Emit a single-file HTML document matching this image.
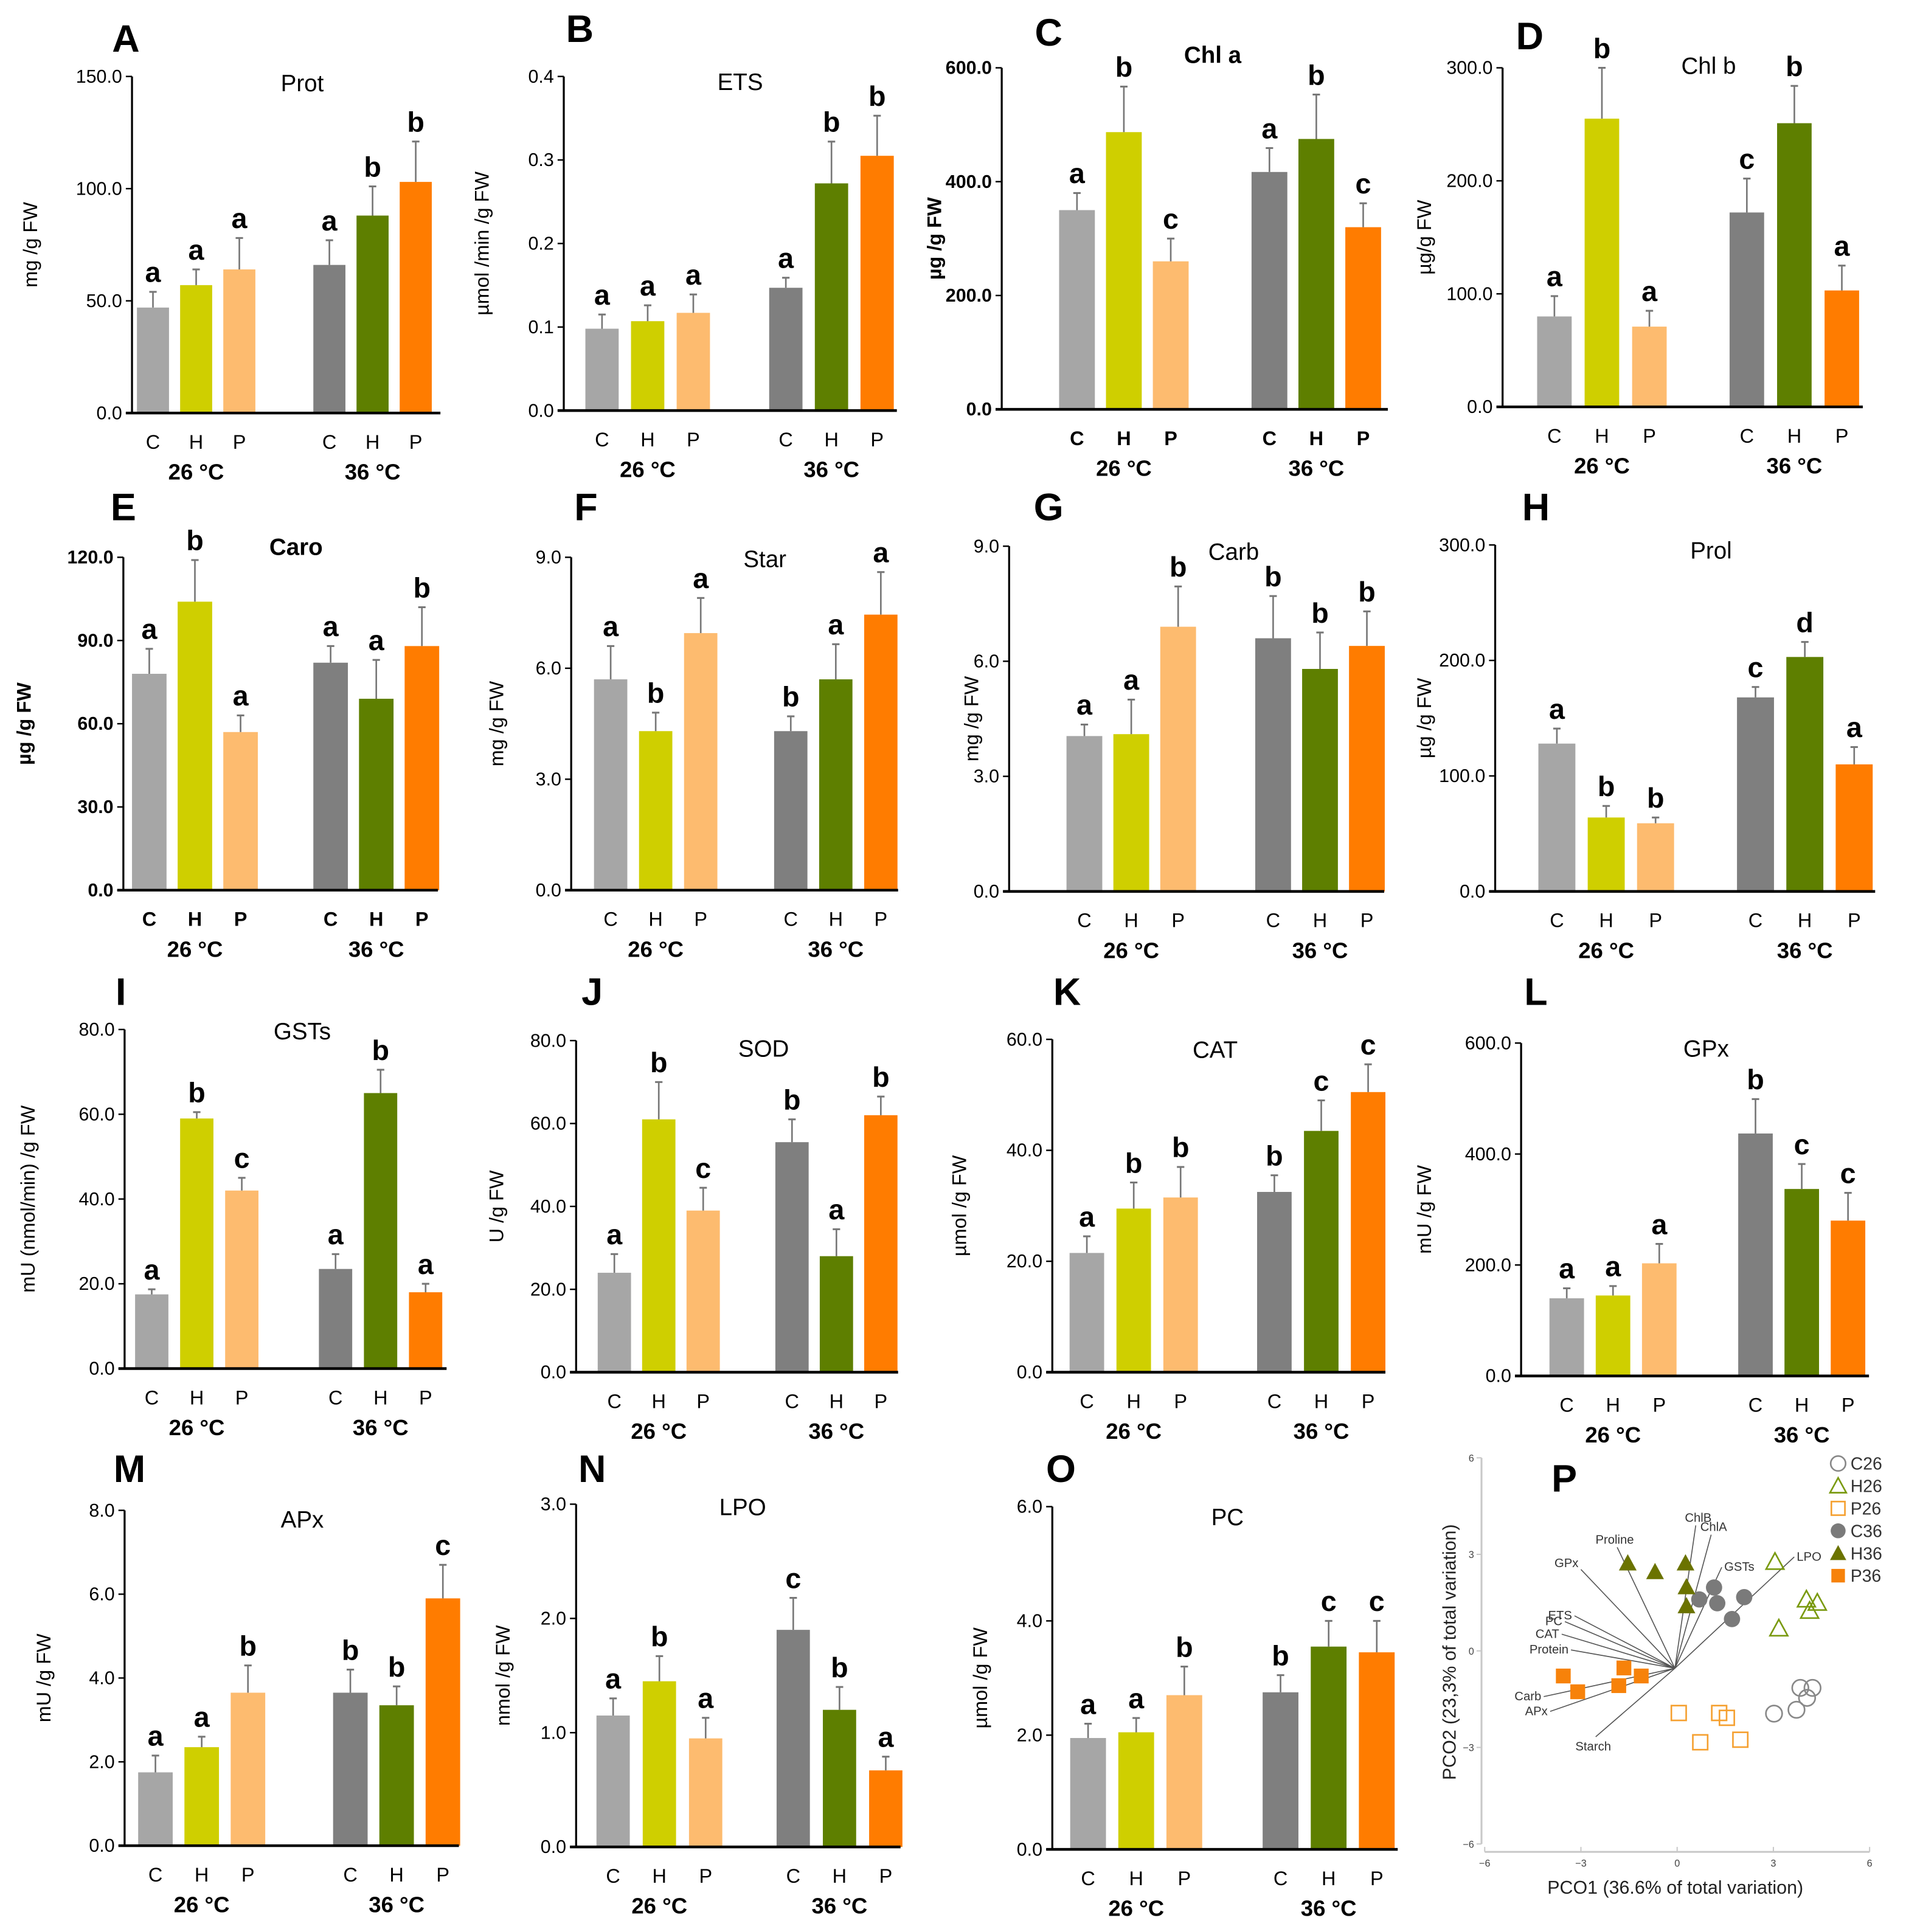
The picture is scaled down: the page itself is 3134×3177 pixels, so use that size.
<!DOCTYPE html>
<html><head><meta charset="utf-8">
<style>
html,body{margin:0;padding:0;background:#fff;}
svg{display:block;}
text{font-family:"Liberation Sans",sans-serif;}
</style></head>
<body>
<svg id="fig" xmlns="http://www.w3.org/2000/svg" width="3134" height="3177" viewBox="0 0 1545 1567" preserveAspectRatio="none"></svg>
<script>
// ---- data arrays (values, errors, significance letters, ticks) ----
const groups = ["C","H","P","C","H","P"];
const tempLabels = ["26 °C","36 °C"];
const protValues = [47,57,64,66,88,103];
const protErrors = [7,7,14,11,13,18];
const protLetters = ["a","a","a","a","b","b"];
const protTicks = ["0.0","50.0","100.0","150.0"];
const etsValues = [0.098,0.107,0.117,0.147,0.272,0.305];
const etsErrors = [0.017,0.019,0.022,0.012,0.05,0.048];
const etsLetters = ["a","a","a","a","b","b"];
const etsTicks = ["0.0","0.1","0.2","0.3","0.4"];
const chlaValues = [350,487,260,417,475,320];
const chlaErrors = [30,80,40,42,78,42];
const chlaLetters = ["a","b","c","a","b","c"];
const chlaTicks = ["0.0","200.0","400.0","600.0"];
const chlbValues = [80,255,71,172,251,103];
const chlbErrors = [18,45,14,30,33,22];
const chlbLetters = ["a","b","a","c","b","a"];
const chlbTicks = ["0.0","100.0","200.0","300.0"];
const caroValues = [78,104,57,82,69,88];
const caroErrors = [9,15,6,6,14,14];
const caroLetters = ["a","b","a","a","a","b"];
const caroTicks = ["0.0","30.0","60.0","90.0","120.0"];
const starValues = [5.7,4.3,6.95,4.3,5.7,7.45];
const starErrors = [0.9,0.5,0.95,0.4,0.95,1.15];
const starLetters = ["a","b","a","b","a","a"];
const starTicks = ["0.0","3.0","6.0","9.0"];
const carbValues = [4.05,4.1,6.9,6.6,5.8,6.4];
const carbErrors = [0.3,0.9,1.05,1.1,0.95,0.9];
const carbLetters = ["a","a","b","b","b","b"];
const carbTicks = ["0.0","3.0","6.0","9.0"];
const prolValues = [128,64,59,168,203,110];
const prolErrors = [13,10,5,9,13,15];
const prolLetters = ["a","b","b","c","d","a"];
const prolTicks = ["0.0","100.0","200.0","300.0"];
const gstValues = [17.5,59,42,23.5,65,18];
const gstErrors = [1.2,1.5,3,3.5,5.5,2];
const gstLetters = ["a","b","c","a","b","a"];
const gstTicks = ["0.0","20.0","40.0","60.0","80.0"];
const sodValues = [24,61,39,55.5,28,62];
const sodErrors = [4.5,9,5.5,5.5,6.5,4.5];
const sodLetters = ["a","b","c","b","a","b"];
const sodTicks = ["0.0","20.0","40.0","60.0","80.0"];
const catValues = [21.5,29.5,31.5,32.5,43.5,50.5];
const catErrors = [3,4.7,5.5,3,5.5,5];
const catLetters = ["a","b","b","b","c","c"];
const catTicks = ["0.0","20.0","40.0","60.0"];
const gpxValues = [140,145,203,437,337,280];
const gpxErrors = [18,17,35,62,45,50];
const gpxLetters = ["a","a","a","b","c","c"];
const gpxTicks = ["0.0","200.0","400.0","600.0"];
const apxValues = [1.75,2.35,3.65,3.65,3.35,5.9];
const apxErrors = [0.4,0.25,0.65,0.55,0.45,0.8];
const apxLetters = ["a","a","b","b","b","c"];
const apxTicks = ["0.0","2.0","4.0","6.0","8.0"];
const lpoValues = [1.15,1.45,0.95,1.9,1.2,0.67];
const lpoErrors = [0.15,0.22,0.18,0.28,0.2,0.12];
const lpoLetters = ["a","b","a","c","b","a"];
const lpoTicks = ["0.0","1.0","2.0","3.0"];
const pcValues = [1.95,2.05,2.7,2.75,3.55,3.45];
const pcErrors = [0.25,0.25,0.5,0.3,0.45,0.55];
const pcLetters = ["a","a","b","b","c","c"];
const pcTicks = ["0.0","2.0","4.0","6.0"];

// PCO data
const pcoGroups = ["C26","H26","P26","C36","H36","P36"];
const pcoX = [
  [3.02,3.72,3.84,4.22,4.05],
  [3.05,3.17,4.03,4.37,4.13],
  [0.05,1.31,1.55,0.72,1.97],
  [0.69,1.15,1.25,2.09,1.71],
  [-1.54,-0.69,0.26,0.29,0.29],
  [-3.55,-3.1,-1.66,-1.12,-1.82]];
const pcoY = [
  [-1.95,-1.83,-1.15,-1.15,-1.46],
  [2.77,0.70,1.6,1.5,1.25],
  [-1.93,-1.93,-2.08,-2.84,-2.76],
  [1.6,1.97,1.48,1.67,0.99],
  [2.73,2.46,2.73,1.99,1.4],
  [-0.78,-1.27,-0.53,-0.78,-1.08]];
const vecNames = ["Proline","GPx","ETS","PC","CAT","Protein","Carb","APx","Starch","ChlB","ChlA","GSTs","LPO"];
const vecX = [-1.87,-3.0,-3.2,-3.5,-3.6,-3.31,-4.16,-3.96,-2.54,0.58,1.06,1.39,3.65];
const vecY = [3.22,2.53,1.09,0.91,0.52,0.03,-1.42,-1.88,-2.67,3.9,3.61,2.6,2.92];
const vecOrigin = [-0.07,-0.54];
const pcoTicks = [-6,-3,0,3,6];

// ---- drawing ----
const NS="http://www.w3.org/2000/svg";
const svg=document.getElementById('fig');
const colors=["#a6a6a6","#cfcf00","#fdbb6f","#7f7f7f","#5e7f00","#ff7c00"];
function mk(tag,attrs,parent){const e=document.createElementNS(NS,tag);for(const k in attrs)e.setAttribute(k,attrs[k]);(parent||svg).appendChild(e);return e;}
function txt(s,attrs,parent){const e=mk('text',attrs,parent);e.textContent=s;return e;}

const panels=[
 {id:"A",title:"Prot",v:protValues,e:protErrors,l:protLetters,t:protTicks,max:150,ax:107,end:357,yb:335,yt:62,x0:124,dx:35,g2:267,bw:26,lx:102,ly:42,tx:245,ty:74,yl:"mg /g FW",ylx:30,bold:false},
 {id:"B",title:"ETS",v:etsValues,e:etsErrors,l:etsLetters,t:etsTicks,max:0.4,ax:457,end:727,yb:333,yt:62,x0:488,dx:37,g2:637,bw:27,lx:470,ly:34,tx:600,ty:73,yl:"µmol /min /g FW",ylx:396,bold:false},
 {id:"C",title:"Chl a",v:chlaValues,e:chlaErrors,l:chlaLetters,t:chlaTicks,max:600,ax:812,end:1125,yb:332,yt:55,x0:873,dx:38,g2:1029,bw:29,lx:850,ly:37,tx:983,ty:51,yl:"µg /g FW",ylx:763,bold:true},
 {id:"D",title:"Chl b",v:chlbValues,e:chlbErrors,l:chlbLetters,t:chlbTicks,max:300,ax:1218,end:1510,yb:330,yt:55,x0:1260,dx:38.5,g2:1416,bw:28,lx:1240,ly:40,tx:1385,ty:60,yl:"µg/g FW",ylx:1160,bold:false},
 {id:"E",title:"Caro",v:caroValues,e:caroErrors,l:caroLetters,t:caroTicks,max:120,ax:100,end:355,yb:722,yt:452,x0:121,dx:37,g2:268,bw:28,lx:100,ly:422,tx:240,ty:450,yl:"µg /g FW",ylx:25,bold:true},
 {id:"F",title:"Star",v:starValues,e:starErrors,l:starLetters,t:starTicks,max:9,ax:463,end:728,yb:722,yt:452,x0:495,dx:36.5,g2:641,bw:27,lx:475,ly:422,tx:620,ty:460,yl:"mg /g FW",ylx:408,bold:false},
 {id:"G",title:"Carb",v:carbValues,e:carbErrors,l:carbLetters,t:carbTicks,max:9,ax:818,end:1122,yb:723,yt:443,x0:879,dx:38,g2:1032,bw:29,lx:850,ly:422,tx:1000,ty:454,yl:"mg /g FW",ylx:793,bold:false},
 {id:"H",title:"Prol",v:prolValues,e:prolErrors,l:prolLetters,t:prolTicks,max:300,ax:1212,end:1520,yb:723,yt:442,x0:1262,dx:40,g2:1423,bw:30,lx:1245,ly:422,tx:1387,ty:453,yl:"µg /g FW",ylx:1160,bold:false},
 {id:"I",title:"GSTs",v:gstValues,e:gstErrors,l:gstLetters,t:gstTicks,max:80,ax:101,end:362,yb:1110,yt:835,x0:123,dx:36.5,g2:272,bw:27,lx:98,ly:815,tx:245,ty:843,yl:"mU (nmol/min) /g FW",ylx:28,bold:false},
 {id:"J",title:"SOD",v:sodValues,e:sodErrors,l:sodLetters,t:sodTicks,max:80,ax:467,end:728,yb:1113,yt:844,x0:498,dx:36,g2:642,bw:27,lx:480,ly:815,tx:619,ty:857,yl:"U /g FW",ylx:408,bold:false},
 {id:"K",title:"CAT",v:catValues,e:catErrors,l:catLetters,t:catTicks,max:60,ax:853,end:1123,yb:1113,yt:843,x0:881,dx:38,g2:1033,bw:28,lx:865,ly:815,tx:985,ty:858,yl:"µmol /g FW",ylx:783,bold:false},
 {id:"L",title:"GPx",v:gpxValues,e:gpxErrors,l:gpxLetters,t:gpxTicks,max:600,ax:1233,end:1515,yb:1116,yt:846,x0:1270,dx:37.5,g2:1423,bw:28,lx:1245,ly:815,tx:1383,ty:857,yl:"mU /g FW",ylx:1160,bold:false},
 {id:"M",title:"APx",v:apxValues,e:apxErrors,l:apxLetters,t:apxTicks,max:8,ax:101,end:372,yb:1497,yt:1225,x0:126,dx:37.5,g2:284,bw:28,lx:105,ly:1202,tx:245,ty:1239,yl:"mU /g FW",ylx:41,bold:false},
 {id:"N",title:"LPO",v:lpoValues,e:lpoErrors,l:lpoLetters,t:lpoTicks,max:3,ax:467,end:730,yb:1498,yt:1220,x0:497,dx:37.5,g2:643,bw:27,lx:480,ly:1202,tx:602,ty:1229,yl:"nmol /g FW",ylx:413,bold:false},
 {id:"O",title:"PC",v:pcValues,e:pcErrors,l:pcLetters,t:pcTicks,max:6,ax:853,end:1133,yb:1500,yt:1222,x0:882,dx:39,g2:1038,bw:29,lx:860,ly:1202,tx:995,ty:1237,yl:"µmol /g FW",ylx:800,bold:false}
];

panels.forEach(p=>{
  const g=mk('g',{});
  
  
  const ys=v=>p.yb-(v/p.max)*(p.yb-p.yt);
  const xs=i=>i<3?p.x0+i*p.dx:p.g2+(i-3)*p.dx;
  const fw=p.bold?'bold':'normal';
  const lt=txt(p.id,{x:p.lx,y:p.ly,'font-size':31,'font-weight':'bold','text-anchor':'middle'},g);
  
  
  const tt=txt(p.title,{x:p.tx,y:p.ty,'font-size':19,'font-weight':p.bold?'bold':'normal','text-anchor':'middle'},g);
  
  
  const yl=txt(p.yl,{x:0,y:0,'font-size':16,'font-weight':p.bold?'bold':'normal','text-anchor':'middle',transform:`translate(${p.ylx},${(p.yt+p.yb)/2}) rotate(-90)`},g);
  
  
  p.t.forEach((s,k)=>{
    const v=p.max*k/(p.t.length-1);const y=ys(v);
    mk('line',{x1:p.ax-5,x2:p.ax,y1:y,y2:y,stroke:'#000','stroke-width':1.2},g);
    const tl=txt(s,{x:p.ax-8,y:y+5,'font-size':15,'font-weight':fw,'text-anchor':'end'},g);
    
    
  });
  p.v.forEach((v,i)=>{
    const cx=xs(i),top=ys(v),et=ys(v+p.e[i]);
    const r=mk('rect',{x:cx-p.bw/2,y:top,width:p.bw,height:p.yb-top,fill:colors[i]},g);
    
    
    mk('line',{x1:cx,x2:cx,y1:top,y2:et,stroke:'#777','stroke-width':1.3},g);
    mk('line',{x1:cx-3,x2:cx+3,y1:et,y2:et,stroke:'#777','stroke-width':1.5},g);
    const le=txt(p.l[i],{x:cx,y:et-8,'font-size':23,'font-weight':'bold','text-anchor':'middle'},g);
    
    
    const xl=txt(groups[i],{x:cx,y:p.yb+29,'font-size':16,'font-weight':fw,'text-anchor':'middle'},g);
    
    
  });
  [1,4].forEach((i,k)=>{
    const gl=txt(tempLabels[k],{x:xs(i),y:p.yb+54,'font-size':18,'font-weight':'bold','text-anchor':'middle'},g);
    
    
  });
  const ya=mk('line',{x1:p.ax,x2:p.ax,y1:p.yt,y2:p.yb,stroke:'#000','stroke-width':1.6},g);
  
  
  const xa=mk('line',{x1:p.ax-5,x2:p.end,y1:p.yb,y2:p.yb,stroke:'#000','stroke-width':2.2},g);
  
  
});

// ---- PCO panel ----
(function(){
  const g=mk('g',{});
  
  
  const X=v=>1359.5+v*26.0, Y=v=>1339+v*-26.1;
  const grey='#c8c8c8';
  mk('line',{x1:X(-6.1),x2:X(-6.1),y1:Y(6),y2:Y(-6),stroke:grey,'stroke-width':1.5},g);
  mk('line',{x1:X(-6),x2:X(6),y1:1502,y2:1502,stroke:grey,'stroke-width':1.5},g);
  pcoTicks.forEach(t=>{
    const s=(t<0?'−':'')+Math.abs(t);
    mk('line',{x1:X(-6.1)-4,x2:X(-6.1),y1:Y(t),y2:Y(t),stroke:grey,'stroke-width':1},g);
    const a=txt(s,{x:X(-6.1)-6,y:Y(t)+3,'font-size':8,'text-anchor':'end',fill:'#444'},g);
    
    
    mk('line',{x1:X(t),x2:X(t),y1:1502,y2:1498,stroke:grey,'stroke-width':1},g);
    const b=txt(s,{x:X(t),y:1514,'font-size':8,'text-anchor':'middle',fill:'#444'},g);
    
    
  });
  const xt=txt('PCO1 (36.6% of total variation)',{x:1358,y:1536,'font-size':15,'text-anchor':'middle',fill:'#222'},g);
  
  
  const yt=txt('PCO2 (23,3% of total variation)',{x:0,y:0,'font-size':15,'text-anchor':'middle',fill:'#222',transform:'translate(1180,1340) rotate(-90)'},g);
  
  
  const pl=txt('P',{x:1268,y:1210,'font-size':31,'font-weight':'bold','text-anchor':'middle'},g);
  
  
  vecNames.forEach((n,i)=>{
    const l=mk('line',{x1:X(vecOrigin[0]),y1:Y(vecOrigin[1]),x2:X(vecX[i]),y2:Y(vecY[i]),stroke:'#555','stroke-width':0.8},g);
    
    
    const right=vecX[i]>0;
    const t=txt(n,{x:X(vecX[i])+(right?2:-2),y:Y(vecY[i])+(vecY[i]>2.4&&!right?-4:3),'font-size':10,'text-anchor':right?'start':'end',fill:'#333'},g);
    if(n==='Starch'){t.setAttribute('text-anchor','middle');t.setAttribute('y',Y(vecY[i])+11);}
    if(n==='Proline'){t.setAttribute('text-anchor','middle');t.setAttribute('y',Y(vecY[i])-3);}
    if(n==='GPx'){t.setAttribute('y',Y(vecY[i])-2);}
    if(n==='ChlB'||n==='ChlA'){t.setAttribute('text-anchor','middle');t.setAttribute('y',Y(vecY[i])-3);}
    
    
  });
  function marker(k,cx,cy,s,par){
    const filled=k>=3; const fill=filled?(k===3?'#7a7a7a':k===4?'#6b7300':'#f7820a'):'none';
    const st=filled?'none':(k===0?'#888':k===1?'#7a9a10':'#f5a030');
    let e;
    if(k===0||k===3) e=mk('circle',{cx,cy,r:s*0.55,fill,stroke:st,'stroke-width':1.3},par);
    else if(k===1||k===4) e=mk('polygon',{points:`${cx},${cy-s*0.6} ${cx-s*0.6},${cy+s*0.5} ${cx+s*0.6},${cy+s*0.5}`,fill,stroke:st,'stroke-width':1.3},par);
    else e=mk('rect',{x:cx-s*0.5,y:cy-s*0.5,width:s,height:s,fill,stroke:st,'stroke-width':1.3},par);
    return e;
  }
  pcoX.forEach((arr,k)=>{
    arr.forEach((xv,j)=>{
      const m=marker(k,X(xv),Y(pcoY[k][j]),12,g);
      
      
    });
  });
  pcoGroups.forEach((n,k)=>{
    const y=1187+k*18.2;
    const m=marker(k,1490,y,11,g);
    
    
    const t=txt(n,{x:1500,y:y+5,'font-size':14,fill:'#333'},g);
    
    
  });
})();
</script>
</body></html>
